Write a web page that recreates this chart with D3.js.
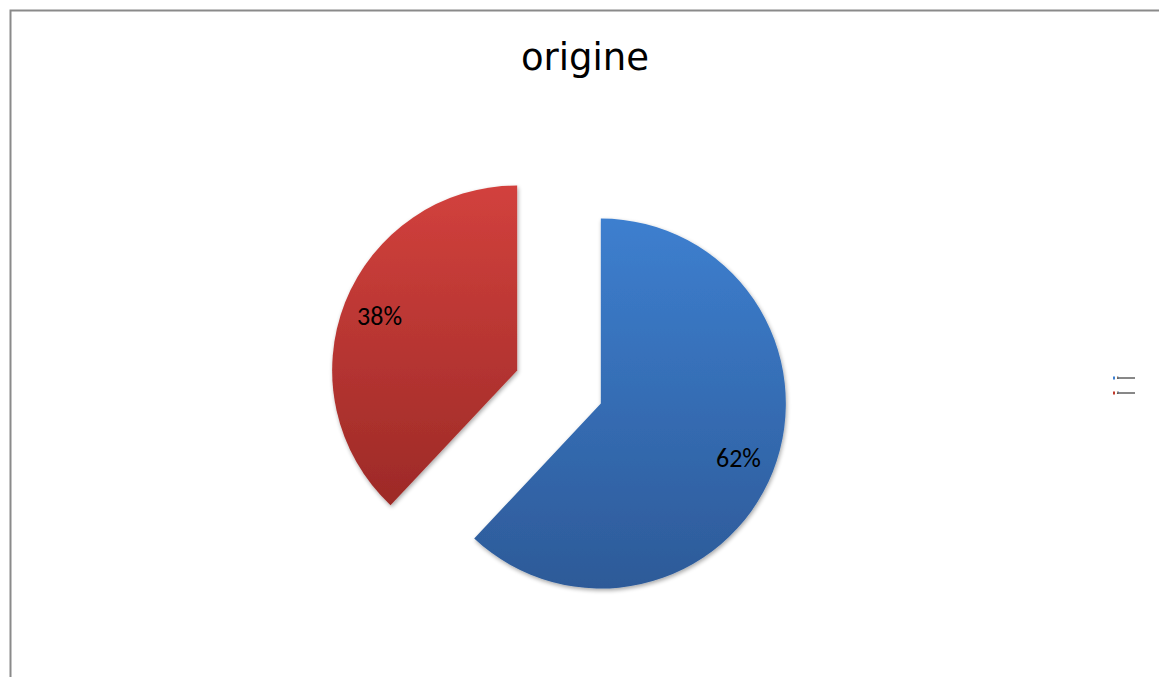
<!DOCTYPE html>
<html><head><meta charset="utf-8">
<script src="https://cdn.jsdelivr.net/npm/d3@7"></script>
<style>body{margin:0;background:#fff;}svg{display:block;}</style>
</head><body>
<svg id="c" width="1159" height="677"></svg>
<script>
const categories = ["1", "2"];
const values = [62, 38];
const labels = ["62%", "38%"];
const title = "origine";

const svg = d3.select("#c");
const W = 1159, H = 677;
// frame
svg.append("path").attr("d", `M10.5,${H} V10.5 H${W}`).attr("fill","none").attr("stroke","#8a8a8a").attr("stroke-width",2);

svg.append("text").attr("x",585).attr("y",70).attr("text-anchor","middle")
  .attr("font-family","DejaVu Sans, Verdana, sans-serif").attr("font-size",37).attr("fill","#000").text(title);

const defs = svg.append("defs");
const grads = [["#3d7fcf","#2d5a98"],["#d2413d","#9d2a27"]];
grads.forEach((g,i)=>{
  const lg = defs.append("linearGradient").attr("id","g"+i).attr("x1",0).attr("y1",0).attr("x2",0).attr("y2",1);
  lg.append("stop").attr("offset","0%").attr("stop-color",g[0]);
  lg.append("stop").attr("offset","100%").attr("stop-color",g[1]);
});
const f = defs.append("filter").attr("id","sh").attr("x","-10%").attr("y","-10%").attr("width","130%").attr("height","130%");
f.append("feGaussianBlur").attr("in","SourceAlpha").attr("stdDeviation",2);
f.append("feOffset").attr("dx",1).attr("dy",2).attr("result","b");
f.append("feComponentTransfer").append("feFuncA").attr("type","linear").attr("slope",0.35);
const m = f.append("feMerge"); m.append("feMergeNode"); m.append("feMergeNode").attr("in","SourceGraphic");

const cx = 559, cy = 387, R = 185, explode = 45, labelR = 148;
const pie = d3.pie().sort(null).value(d=>d)(values);
const arc = d3.arc().innerRadius(0).outerRadius(R);

pie.forEach((p,i)=>{
  const mid = (p.startAngle+p.endAngle)/2;
  const ox = cx + explode*Math.sin(mid), oy = cy - explode*Math.cos(mid);
  const g = svg.append("g").attr("transform",`translate(${ox},${oy})`);
  g.append("path").attr("d",arc(p)).attr("fill",`url(#g${i})`).attr("filter","url(#sh)");
  g.append("text").attr("x",labelR*Math.sin(mid)).attr("y",-labelR*Math.cos(mid)).attr("dy","0.35em")
    .attr("text-anchor","middle").attr("font-family","Carlito, Liberation Sans, sans-serif").attr("font-size",26).attr("fill","#000")
    .text(labels[i]);
});

// tiny legend
const colors = ["#3d7fcf","#c0392b"];
categories.forEach((c,i)=>{
  const y = 378 + i*15;
  svg.append("rect").attr("x",1113).attr("y",y-1.5).attr("width",2).attr("height",3).attr("fill",colors[i]);
  svg.append("text").attr("x",1117).attr("y",y+1).attr("font-size",3).attr("font-family","Liberation Sans, sans-serif").attr("fill","#000").text(c);
  svg.append("line").attr("x1",1117).attr("x2",1135).attr("y1",y).attr("y2",y).attr("stroke","#111").attr("stroke-width",1);
});
</script>
</body></html>
